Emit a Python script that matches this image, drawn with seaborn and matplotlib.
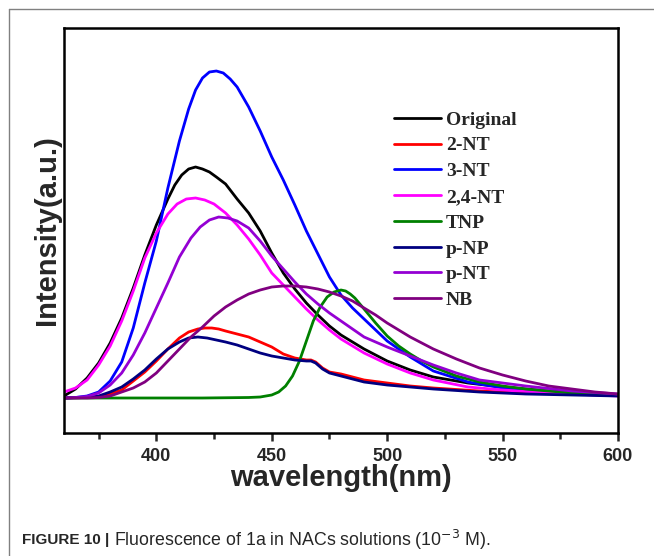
import pandas as pd
import seaborn as sns
import matplotlib.pyplot as plt
from matplotlib.lines import Line2D

#--spectra (wavelength nm, intensity a.u.)--#
orig_nm = [360, 365, 370, 375, 380, 385, 390, 395, 400, 405, 408, 411, 414, 417, 420, 423, 426, 430, 435, 440, 445, 450, 455, 460, 465, 470, 475, 480, 490, 500, 510, 520, 535, 550, 570, 600]
orig_int = [37, 44, 55, 70, 90, 115, 145, 178, 208, 234, 248, 258, 264, 266, 264, 261, 256, 249, 234, 220, 202, 180, 160, 144, 130, 118, 107, 98, 84, 72, 63, 56, 50, 46, 42, 38]

nt2_nm = [360, 370, 375, 380, 385, 390, 395, 400, 405, 410, 414, 418, 421, 424, 427, 430, 435, 440, 445, 450, 455, 460, 465, 467, 469, 472, 475, 480, 485, 490, 500, 510, 520, 540, 560, 580, 600]
nt2_int = [35, 35.5, 36, 39, 43, 52, 61, 72, 84, 95, 101, 104, 105, 105, 104, 102, 99, 96, 91, 86, 79, 75, 73, 73, 71, 65, 61, 59, 56, 53, 50, 47, 45, 42, 40, 39, 38]

nt3_nm = [360, 365, 370, 375, 380, 385, 390, 395, 400, 405, 410, 414, 417, 420, 423, 426, 429, 432, 435, 440, 445, 450, 455, 460, 465, 470, 475, 480, 485, 490, 495, 500, 505, 510, 520, 535, 550, 570, 600]
nt3_int = [35, 35.5, 37, 41, 52, 71, 105, 150, 192, 245, 292, 324, 343, 355, 361, 362, 360, 354, 346, 326, 302, 276, 253, 228, 202, 179, 156, 138, 125, 114, 103, 92, 84, 76, 62, 51, 45, 41, 38]

nt24_nm = [360, 365, 370, 375, 380, 385, 390, 395, 400, 405, 409, 413, 417, 421, 425, 430, 435, 440, 445, 450, 455, 460, 465, 470, 475, 480, 490, 500, 510, 520, 535, 550, 570, 600]
nt24_int = [41, 45, 53, 68, 87, 112, 142, 175, 200, 219, 229, 234, 235, 233, 229, 220, 208, 194, 178, 160, 148, 136, 124, 113, 103, 94, 80, 69, 60, 53, 46, 43, 40, 37]

tnp_nm = [360, 380, 400, 420, 440, 445, 450, 453, 456, 459, 462, 465, 468, 471, 474, 477, 480, 482, 484, 486, 490, 495, 500, 505, 510, 515, 520, 530, 540, 550, 560, 580, 600]
tnp_int = [35, 35, 35, 35, 35.5, 36, 38, 41, 47, 57, 72, 92, 112, 126, 136, 141, 143, 142, 139, 135, 124, 110, 97, 87, 79, 72, 66, 57, 51, 47, 44, 40, 38]

pnp_nm = [360, 370, 375, 380, 385, 390, 395, 400, 405, 410, 414, 418, 422, 426, 430, 435, 440, 445, 450, 455, 460, 465, 467, 469, 472, 475, 480, 485, 490, 500, 510, 520, 540, 560, 580, 600]
pnp_int = [35, 35.5, 37, 41, 46, 54, 63, 74, 84, 91, 95, 96, 95, 93, 91, 88, 84, 80, 77, 75, 73, 72, 72, 70, 64, 60, 57, 54, 51, 48, 46, 44, 41, 39, 38, 37]

pnt_nm = [360, 365, 370, 375, 380, 385, 390, 395, 400, 405, 410, 415, 419, 423, 427, 431, 435, 440, 445, 450, 455, 460, 465, 470, 475, 480, 490, 500, 510, 520, 530, 540, 560, 580, 600]
pnt_int = [35, 35.5, 36.5, 40, 48, 60, 78, 100, 125, 150, 176, 195, 206, 213, 216, 215, 212, 205, 192, 177, 164, 151, 139, 129, 120, 112, 96, 86, 77, 68, 60, 53, 47, 42, 39]

nb_nm = [360, 370, 375, 380, 385, 390, 395, 400, 405, 410, 415, 420, 425, 430, 435, 440, 445, 450, 455, 460, 465, 470, 475, 480, 485, 490, 495, 500, 505, 510, 515, 520, 530, 540, 550, 560, 570, 580, 590, 600]
nb_int = [35, 35, 35.5, 37, 41, 45, 51, 60, 72, 84, 96, 106, 117, 126, 133, 139, 143, 146, 147, 147, 146, 144, 141, 137, 132, 125, 118, 110, 103, 96, 90, 84, 74, 65, 58, 52, 47, 44, 41, 39]

samples = ['Original', '2-NT', '3-NT', '2,4-NT', 'TNP', 'p-NP', 'p-NT', 'NB']
colors = ['#000000', '#ff0000', '#0000ff', '#ff00ff', '#008000', '#000080', '#9400d3', '#800080']
spectra = [(orig_nm, orig_int), (nt2_nm, nt2_int), (nt3_nm, nt3_int), (nt24_nm, nt24_int),
           (tnp_nm, tnp_int), (pnp_nm, pnp_int), (pnt_nm, pnt_int), (nb_nm, nb_int)]

#--long form table for seaborn--#
frames = []
for name, (nm, inten) in zip(samples, spectra):
    frames.append(pd.DataFrame({'wavelength': nm, 'intensity': inten, 'sample': name}))
df = pd.concat(frames, ignore_index=True)

sns.set_style('ticks')
plt.rcParams['font.family'] = ['Liberation Sans', 'DejaVu Sans']

fig = plt.figure(figsize=(6.54, 5.56), dpi=100)
ax = fig.add_axes([64/654, 123/556, 554/654, 405/556])

sns.lineplot(data=df, x='wavelength', y='intensity', hue='sample', hue_order=samples,
             palette=colors, estimator=None, sort=True, linewidth=2.0, ax=ax)
for ln in ax.get_lines():
    ln.set_solid_joinstyle('round')

ax.set_xlim(360, 600)
ax.set_ylim(0, 405)
ax.set_xticks([400, 450, 500, 550, 600])
ax.set_xticks([375, 425, 475, 525, 575], minor=True)
ax.set_yticks([])
ax.tick_params(axis='x', which='major', direction='out', length=6, width=1.8,
               labelsize=13, pad=5)
ax.tick_params(axis='x', which='minor', direction='out', length=4.5, width=1.8)
for lab in ax.get_xticklabels():
    lab.set_fontweight('bold')
for sp in ax.spines.values():
    sp.set_linewidth(1.8)
    sp.set_color('black')

ax.set_xlabel('wavelength(nm)', fontsize=21, fontweight='bold', labelpad=-1)
ax.set_ylabel('Intensity(a.u.)', fontsize=21, fontweight='bold', labelpad=2)

ax.legend(loc='upper left', bbox_to_anchor=(0.596, 0.795), frameon=False,
          prop={'family': 'Liberation Serif', 'weight': 'bold', 'size': 14},
          handlelength=2.4, handletextpad=0.25, labelspacing=0.42,
          borderpad=0, borderaxespad=0)

#--caption and page frame--#
cap_y = 1 - 540/556
bold = fig.text(22/654, cap_y, 'FIGURE 10 |', fontsize=11, fontweight='bold', va='center')
fig.canvas.draw()
bb = bold.get_window_extent()
fig.text((bb.x1 + 5)/654, cap_y, r'Fluorescence of 1a in NACs solutions (10$^{-3}$ M).',
         fontsize=12.8, va='center')
fig.add_artist(Line2D([9/654, 9/654], [0, 1 - 9/556], transform=fig.transFigure, color='#808080', lw=1))
fig.add_artist(Line2D([9/654, 1], [1 - 9/556, 1 - 9/556], transform=fig.transFigure, color='#808080', lw=1))

fig.savefig('out.png', dpi=100)
